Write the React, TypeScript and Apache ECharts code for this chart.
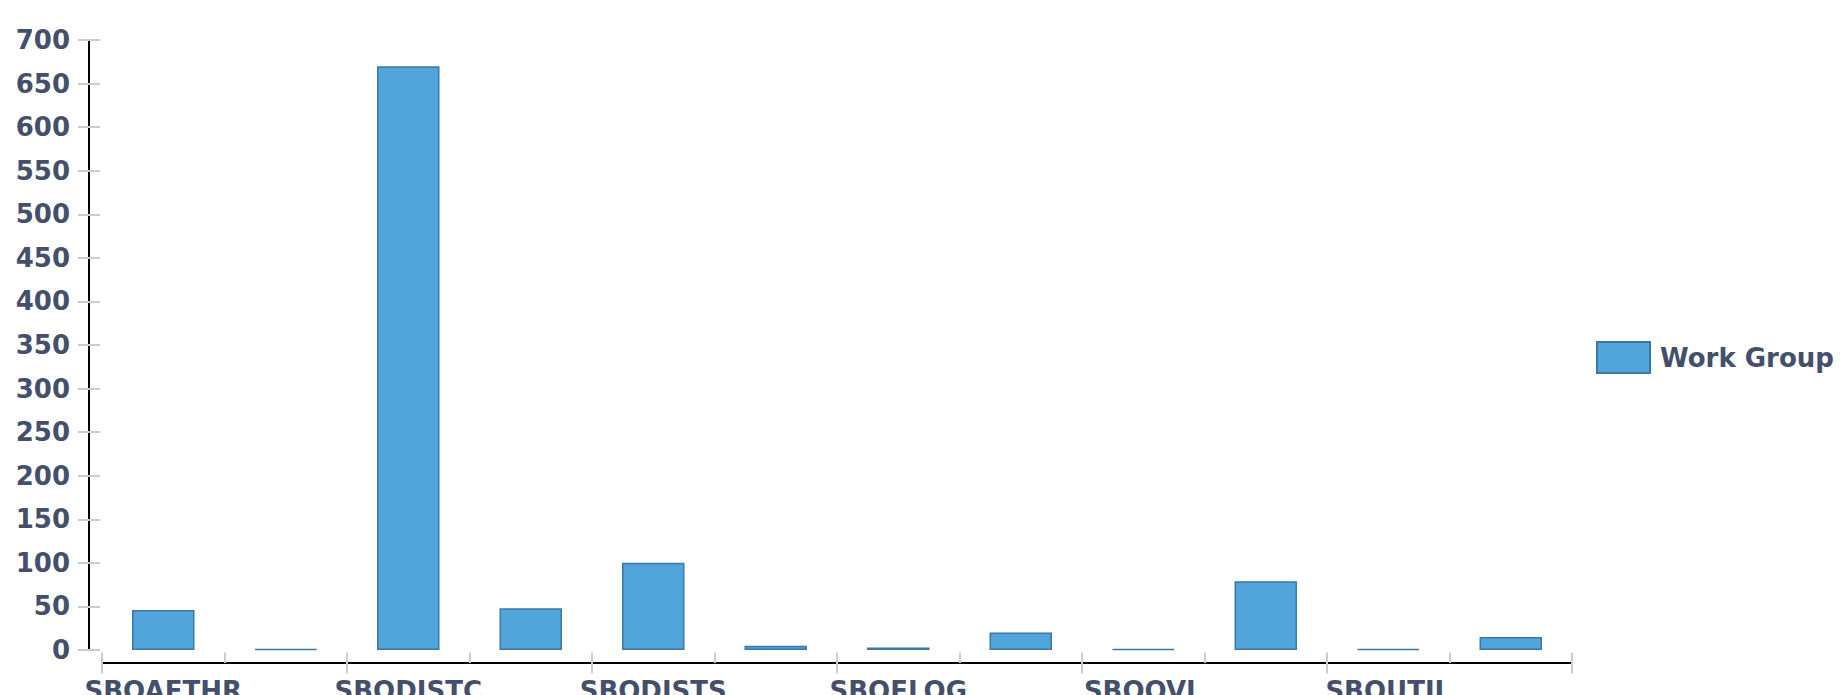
import React, { useEffect, useRef } from "react";
import * as echarts from "echarts";

const categories = [
  "SBOAFTHR", "SBOCOMM", "SBODISTC", "SBODISTR", "SBODISTS", "SBOEDI",
  "SBOELOG", "SBOFIN", "SBOOVL", "SBOSYS", "SBOUTIL", "SBOWEB",
];
const workGroup = [46, 1, 670, 48, 100, 5, 3, 20, 1, 79, 1, 15];
const seriesName = "Work Group";
const yMin = 0;
const yMax = 700;
const yInterval = 50;

const FONT = "DejaVu Sans";
const TEXT = "#434f6b";
const TICK = "#cccccc";

export default function App() {
  const ref = useRef<HTMLDivElement>(null);
  useEffect(() => {
    document.body.style.margin = "0";
    const chart = echarts.init(ref.current!, null, { renderer: "svg" });
    const label = { fontFamily: FONT, fontWeight: "bold" as const, fontSize: 26, color: TEXT };
    chart.setOption({
      animation: false,
      grid: {
        left: 102,
        right: 271,
        top: 40,
        bottom: 45,
        containLabel: false,
        outerBoundsMode: "none",
      },
      legend: {
        data: [seriesName],
        orient: "vertical",
        left: 1596,
        top: 341,
        padding: 0,
        icon: "rect",
        itemWidth: 53,
        itemHeight: 31,
        textStyle: { ...label, padding: [0, 0, 0, 5] },
      },
      xAxis: [
        {
          type: "category",
          data: categories,
          position: "bottom",
          offset: 13,
          axisLine: { onZero: false, lineStyle: { color: "#000", width: 2 } },
          axisTick: { show: true, length: 10.5, lineStyle: { color: TICK, width: 2 } },
          axisLabel: { ...label, interval: 1, margin: 15 },
          splitLine: { show: false },
        },
        {
          type: "category",
          data: categories,
          position: "bottom",
          offset: 13,
          axisLine: { show: false, onZero: false },
          axisTick: { show: true, inside: true, length: 10.5, lineStyle: { color: TICK, width: 2 } },
          axisLabel: { show: false },
          splitLine: { show: false },
        },
      ],
      yAxis: [
        {
          type: "value",
          min: yMin,
          max: yMax,
          interval: yInterval,
          position: "left",
          offset: 13,
          axisLine: { show: true, onZero: false, lineStyle: { color: "#000", width: 2 } },
          axisTick: { show: true, length: 11, lineStyle: { color: TICK, width: 2 } },
          axisLabel: { ...label, margin: 19 },
          splitLine: { show: false },
        },
        {
          type: "value",
          min: yMin,
          max: yMax,
          interval: yInterval,
          position: "left",
          offset: 13,
          axisLine: { show: false, onZero: false },
          axisTick: { show: true, inside: true, length: 11, lineStyle: { color: TICK, width: 2 } },
          axisLabel: { show: false },
          splitLine: { show: false },
        },
      ],
      series: [
        {
          name: seriesName,
          type: "bar",
          data: workGroup,
          xAxisIndex: 0,
          yAxisIndex: 0,
          barWidth: "51%",
          itemStyle: { color: "#51a5da", borderColor: "#3a78a6", borderWidth: 1.5 },
        },
      ],
    });
    return () => chart.dispose();
  }, []);
  return <div ref={ref} style={{ width: 1843, height: 695 }} />;
}
